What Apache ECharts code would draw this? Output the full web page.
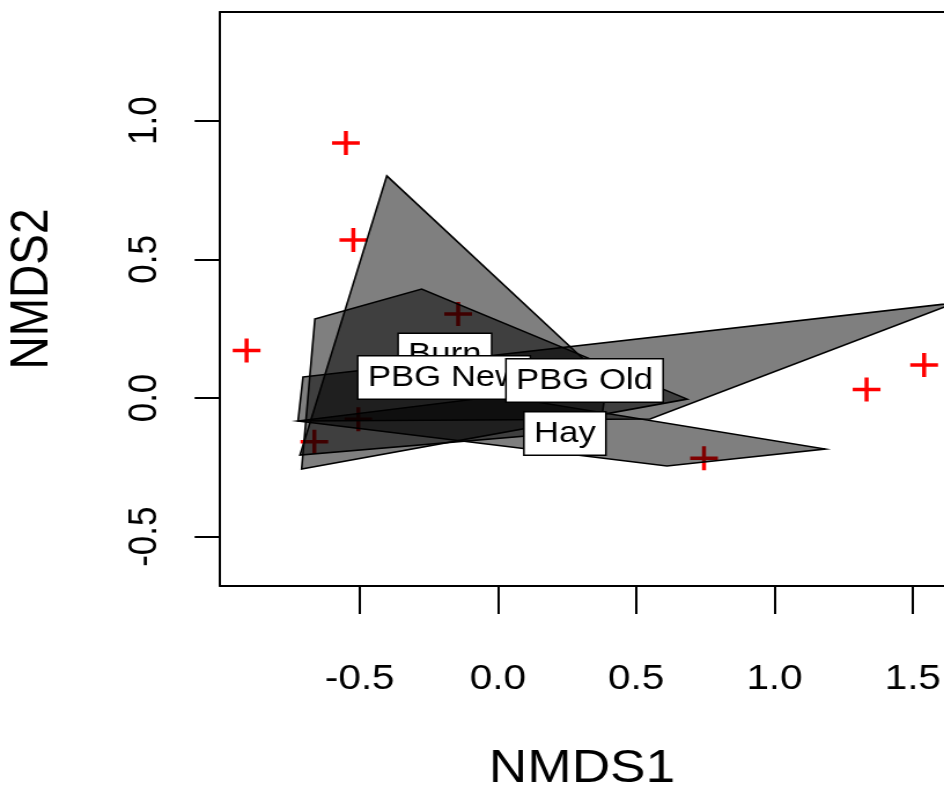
<!DOCTYPE html>
<html>
<head>
<meta charset="UTF-8">
<title>NMDS</title>
<script src="https://cdn.jsdelivr.net/npm/echarts@6/dist/echarts.min.js"></script>
<style>
  html, body { margin: 0; padding: 0; background: #fff; overflow: hidden; }
  /* the original picture is stretched sideways, so draw narrow and stretch */
  #main { width: 816px; height: 791px; transform: scaleX(1.1569); transform-origin: 0 0; }
</style>
</head>
<body>
<div id="main"></div>
<script>
// species scores (red crosses)
var speciesX = [-0.909, -0.550, -0.523, -0.144, -0.664, -0.505, 0.745, 1.333, 1.541];
var speciesY = [0.171, 0.920, 0.570, 0.303, -0.158, -0.077, -0.217, 0.031, 0.119];

// group labels (hull centres)
var groups = ['Burn', 'Hay', 'PBG New', 'PBG Old'];
var labelX = [-0.192, 0.242, -0.195, 0.313];
var labelY = [0.155, -0.128, 0.074, 0.063];

// hull corners for each group
var hullBurn = [[-0.402, 0.801], [0.394, 0.061], [0.369, -0.115], [-0.716, -0.206]];
var hullHay = [[-0.723, -0.083], [0.007, 0.007], [1.183, -0.184], [0.611, -0.245]];
var hullPbgNew = [[-0.662, 0.285], [-0.276, 0.393], [0.684, -0.004], [-0.710, -0.256]];
var hullPbgOld = [[-0.705, 0.076], [1.653, 0.343], [0.550, -0.076], [-0.723, -0.083]];
var hulls = [hullBurn, hullHay, hullPbgNew, hullPbgOld];

// tick labels
var xTicks = [-0.5, 0, 0.5, 1, 1.5];
var yTicks = [-0.5, 0, 0.5, 1];

var font = 'Liberation Sans, Arial, sans-serif';
var chart = echarts.init(document.getElementById('main'));

var option = {
  animation: false,
  grid: { left: 190.2, right: 0, top: 12, bottom: 205, outerBoundsMode: 'none' },
  xAxis: [{
    type: 'value', min: -1.005, max: 1.613, position: 'bottom',
    name: 'NMDS1', nameLocation: 'middle', nameGap: 160,
    nameTextStyle: { fontSize: 46, fontFamily: font, color: '#000' },
    axisLine: { show: true, onZero: false, lineStyle: { color: '#000', width: 2 } },
    axisTick: { show: true, customValues: xTicks, length: 28, lineStyle: { color: '#000', width: 2 } },
    axisLabel: {
      customValues: xTicks, margin: 76, fontSize: 35, fontFamily: font, color: '#000',
      formatter: function (v) { return v.toFixed(1); }
    },
    splitLine: { show: false }
  }, {
    type: 'value', min: -1.005, max: 1.613, position: 'top',
    axisLine: { show: true, onZero: false, lineStyle: { color: '#000', width: 2 } },
    axisTick: { show: false }, axisLabel: { show: false }, splitLine: { show: false }
  }],
  yAxis: [{
    type: 'value', min: -0.678, max: 1.392, position: 'left',
    name: 'NMDS2', nameLocation: 'middle', nameGap: 139, nameRotate: 90,
    nameTextStyle: { fontSize: 46, fontFamily: font, color: '#000', padding: [0, 0, 0, 20] },
    axisLine: { show: true, onZero: false, lineStyle: { color: '#000', width: 2 } },
    axisTick: { show: true, customValues: yTicks, length: 22, lineStyle: { color: '#000', width: 2 } },
    axisLabel: {
      customValues: yTicks, margin: 47, rotate: 90, fontSize: 35, fontFamily: font, color: '#000',
      formatter: function (v) { return v.toFixed(1); }
    },
    splitLine: { show: false }
  }],
  series: [{
    type: 'scatter',
    z: 2,
    silent: true,
    symbol: 'path://M0,-10L0,10M-10,0L10,0',
    symbolSize: 24,
    itemStyle: { opacity: 1, color: 'rgba(0,0,0,0)', borderColor: '#ff0000', borderWidth: 3.5 },
    data: speciesX.map(function (x, i) { return [x, speciesY[i]]; })
  }, {
    type: 'custom',
    z: 3,
    silent: true,
    data: hulls.map(function (h, i) { return [h[0][0], h[0][1], i]; }),
    renderItem: function (params, api) {
      var pts = hulls[params.dataIndex].map(function (p) { return api.coord(p); });
      return {
        type: 'polygon',
        shape: { points: pts },
        style: { fill: 'rgba(0,0,0,0.5)', stroke: '#000', lineWidth: 1.6 }
      };
    }
  }, {
    type: 'scatter',
    z: 4,
    silent: true,
    symbolSize: 0,
    itemStyle: { opacity: 1 },
    data: groups.map(function (g, i) { return { name: g, value: [labelX[i], labelY[i]] }; }),
    label: {
      show: true, position: 'inside', formatter: '{b}',
      fontSize: 30, lineHeight: 30, fontFamily: font, color: '#000',
      backgroundColor: '#fff', borderColor: '#000', borderWidth: 1.5,
      padding: [6, 8, 6, 8]
    }
  }]
};
chart.setOption(option);
</script>
</body>
</html>
